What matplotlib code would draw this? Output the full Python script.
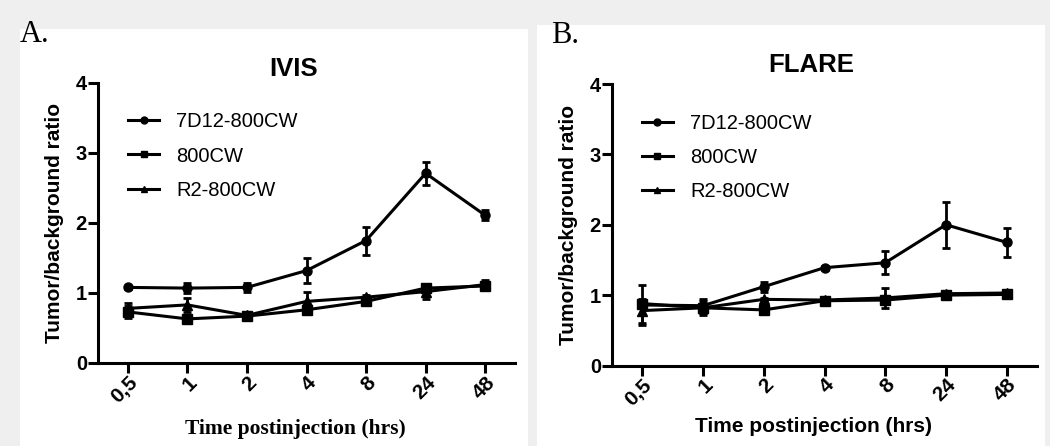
import matplotlib
matplotlib.use("Agg")
import matplotlib.pyplot as plt
from matplotlib.patches import Rectangle
from matplotlib.lines import Line2D

# ---- data ----
time_labels = ["0,5", "1", "2", "4", "8", "24", "48"]
series_names = ["7D12-800CW", "800CW", "R2-800CW"]
series_markers = ["o", "s", "^"]

ivis_7d12 = [1.08, 1.07, 1.08, 1.32, 1.75, 2.71, 2.11]
ivis_7d12_err = [0.02, 0.07, 0.06, 0.18, 0.20, 0.16, 0.07]
ivis_800cw = [0.73, 0.63, 0.67, 0.76, 0.88, 1.07, 1.10]
ivis_800cw_err = [0.08, 0.06, 0.02, 0.04, 0.04, 0.05, 0.04]
ivis_r2 = [0.78, 0.83, 0.68, 0.88, 0.94, 1.02, 1.12]
ivis_r2_err = [0.08, 0.10, 0.02, 0.13, 0.03, 0.10, 0.07]

flare_7d12 = [0.86, 0.85, 1.12, 1.39, 1.46, 2.00, 1.75]
flare_7d12_err = [0.28, 0.10, 0.07, 0.03, 0.16, 0.33, 0.21]
flare_800cw = [0.88, 0.82, 0.79, 0.92, 0.93, 1.00, 1.01]
flare_800cw_err = [0.05, 0.05, 0.02, 0.03, 0.03, 0.02, 0.02]
flare_r2 = [0.78, 0.82, 0.94, 0.93, 0.96, 1.02, 1.03]
flare_r2_err = [0.17, 0.10, 0.02, 0.03, 0.14, 0.02, 0.02]

W, H = 1050, 446
fig = plt.figure(figsize=(W / 100, H / 100), dpi=100)
fig.patch.set_facecolor("#efefef")

# white panel backgrounds
fig.add_artist(Rectangle((20 / W, 0), (528 - 20) / W, 1 - 29 / H,
                         transform=fig.transFigure, facecolor="white",
                         edgecolor="none", zorder=-10))
fig.add_artist(Rectangle((537 / W, 0), (1045 - 537) / W, 1 - 25 / H,
                         transform=fig.transFigure, facecolor="white",
                         edgecolor="none", zorder=-10))

sans = ["Liberation Sans", "DejaVu Sans"]
serif = ["Liberation Serif", "DejaVu Serif"]


def make_panel(rect, title, title_pad, data, xlabel_family, legend_anchor,
               ylabel_x, xlabel_y):
    ax = fig.add_axes(rect)
    ax.set_facecolor("none")
    x = list(range(len(time_labels)))
    handles = []
    for (vals, errs), name, m in zip(data, series_names, series_markers):
        ax.errorbar(x, vals, yerr=errs, color="black", lw=2.2, marker=m,
                    ms=6.5, elinewidth=2.0, capsize=3, capthick=2.0,
                    clip_on=False)
        handles.append(Line2D([], [], color="black", lw=2.2, marker=m,
                              ms=5.0, label=name))
    ax.set_xlim(-0.5, 6.5)
    ax.set_ylim(0, 4)
    ax.set_yticks([0, 1, 2, 3, 4])
    ax.set_xticks(x)
    ax.set_xticklabels(time_labels, rotation=45, ha="right",
                       rotation_mode="anchor", family=sans,
                       fontweight="bold", fontsize=15)
    for lab in ax.get_yticklabels():
        lab.set_family(sans)
        lab.set_fontweight("bold")
        lab.set_fontsize(14.5)
    for s in ["top", "right"]:
        ax.spines[s].set_visible(False)
    for s in ["left", "bottom"]:
        ax.spines[s].set_linewidth(2.2)
    ax.tick_params(axis="both", width=2.2, length=7, direction="out")
    ax.tick_params(axis="x", pad=0)
    ax.tick_params(axis="y", pad=1)
    ax.set_title(title, family=sans, fontweight="bold", fontsize=18.5,
                 pad=title_pad, x=0.47)
    ax.set_ylabel("Tumor/background ratio", family=sans,
                  fontweight="bold", fontsize=15)
    ax.yaxis.set_label_coords(ylabel_x, 0.5)
    if xlabel_family == "serif":
        ax.set_xlabel("Time postinjection (hrs)", family=serif,
                      fontweight="bold", fontsize=15.5)
    else:
        ax.set_xlabel("Time postinjection (hrs)", family=sans,
                      fontweight="bold", fontsize=15)
    ax.xaxis.set_label_coords(0.474, xlabel_y)
    ax.legend(handles=handles, loc="upper left",
              bbox_to_anchor=legend_anchor, frameon=False,
              prop={"family": sans, "size": 14.5}, handlelength=1.55,
              handletextpad=0.85, labelspacing=0.75, borderpad=0,
              borderaxespad=0)
    return ax


axA = make_panel([98 / W, 1 - 363 / H, (515 - 98) / W, 280 / H], "IVIS", 5,
                 [(ivis_7d12, ivis_7d12_err), (ivis_800cw, ivis_800cw_err),
                  (ivis_r2, ivis_r2_err)], "serif", (0.072, 0.895),
                 (64 - 98) / 417, (363 - 419) / 280)
axB = make_panel([612 / W, 1 - 365.5 / H, (1037 - 612) / W, 281.5 / H],
                 "FLARE", 9,
                 [(flare_7d12, flare_7d12_err),
                  (flare_800cw, flare_800cw_err), (flare_r2, flare_r2_err)],
                 "sans", (0.07, 0.895), (578 - 612) / 425,
                 (365.5 - 417) / 281.5)

fig.text(20 / W, 1 - 42 / H, "A.", family=serif, fontsize=22, ha="left",
         va="baseline")
fig.text(551 / W, 1 - 43 / H, "B.", family=serif, fontsize=22, ha="left",
         va="baseline")

fig.savefig("out.png", dpi=100, facecolor=fig.get_facecolor())
